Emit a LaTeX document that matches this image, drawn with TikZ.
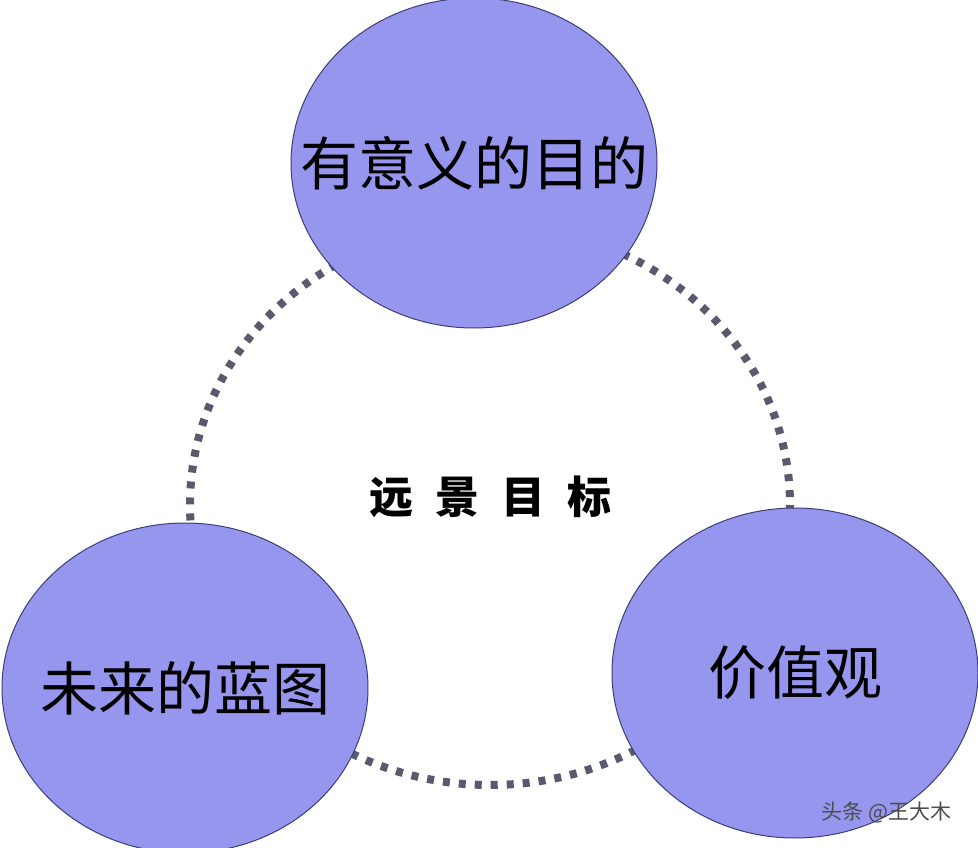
\documentclass[tikz,border=0pt]{standalone}
\usepackage{fontspec}
\newfontfamily\cjk{Noto Sans CJK SC}
\newfontfamily\cjkb{Noto Sans CJK SC Black}
\definecolor{bubble}{RGB}{150,150,238}
\definecolor{rim}{RGB}{60,60,120}
\definecolor{dots}{RGB}{90,90,110}
\tikzset{
  bub/.style={ellipse,draw=rim,line width=1pt,fill=bubble,minimum width=366pt,minimum height=330pt,inner sep=0pt,font=\cjk\fontsize{58}{62}\selectfont},
  ring/.style={draw=dots,line width=8pt,dash pattern=on 7pt off 9pt}
}
\usetikzlibrary{shapes.geometric}
\begin{document}
\begin{tikzpicture}[x=1pt,y=-1pt]
\useasboundingbox[fill=white] (0,0) rectangle (978,848);
\draw[ring] (490,505) ellipse [x radius=300, y radius=280];
\node[bub] (t) at (474,163) {\makebox[0pt]{\raisebox{-8pt}{有意义的目的}}};
\node[bub] (l) at (185,688) {\makebox[0pt]{未来的蓝图}};
\node[bub] (r) at (795,673) {\makebox[0pt]{价值观}};
\node[font=\cjkb\fontsize{44}{48}\selectfont] (c) at (490,497) {远\hspace{22pt}景\hspace{22pt}目\hspace{22pt}标};
\node[font=\cjk\fontsize{21}{24}\selectfont,anchor=east] (w) at (955,812) {\textcolor{black!70}{头条 @王大木}};
\end{tikzpicture}
\end{document}
